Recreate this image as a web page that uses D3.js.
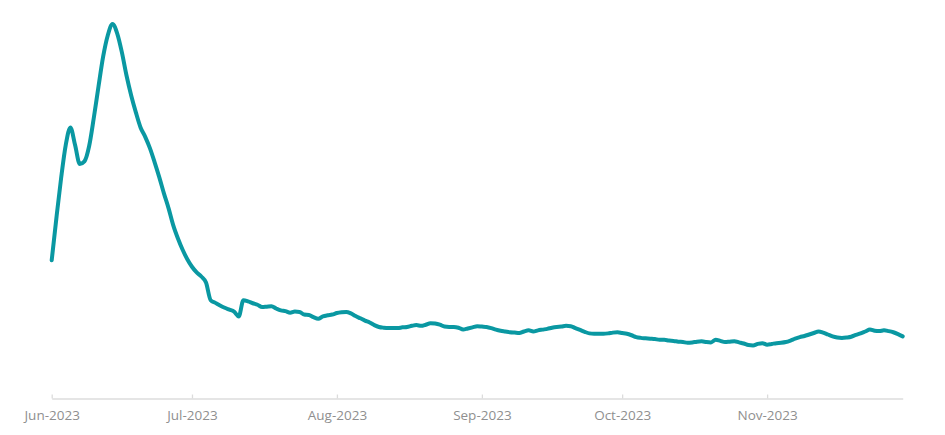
<!DOCTYPE html>
<html>
<head>
<meta charset="utf-8">
<script src="https://cdn.jsdelivr.net/npm/d3@7"></script>
<style>
  html, body { margin: 0; padding: 0; background: #ffffff; }
  svg { display: block; }
</style>
</head>
<body>
<svg id="chart" width="945" height="435"></svg>
<script>
// ---- Data (arbitrary units, daily) ----
const startDate = "2023-06-01";
const endDate = "2023-12-01"; // exclusive
const values = [
  36.7, 47.9, 58.4, 67.3, 72.0, 67.3, 62.3, 63.0, 67.0, 74.5,
  82.8, 90.8, 96.5, 99.5, 97.0, 92.0, 85.8, 80.5, 76.0, 72.0,
  69.5, 66.5, 62.8, 58.8, 54.5, 50.5, 46.0, 42.5, 39.5, 37.0,
  35.0, 33.5, 32.4, 30.8, 26.1, 25.4, 24.7, 24.1, 23.6, 23.1,
  21.8, 26.1, 25.8, 25.3, 24.9, 24.3, 24.4, 24.5, 23.9, 23.4,
  23.2, 22.8, 23.1, 23.0, 22.3, 22.2, 21.6, 21.2, 21.8, 22.1,
  22.3, 22.7, 22.9, 23.0, 22.6, 21.9, 21.3, 20.7, 20.2, 19.5,
  19.0, 18.8, 18.7, 18.7, 18.7, 18.9, 19.0, 19.3, 19.5, 19.3,
  19.6, 20.0, 19.9, 19.6, 19.1, 19.0, 19.0, 18.8, 18.3, 18.6,
  18.9, 19.2, 19.1, 19.0, 18.7, 18.3, 18.0, 17.8, 17.6, 17.5,
  17.4, 17.8, 18.1, 17.8, 18.1, 18.3, 18.5, 18.8, 19.0, 19.1,
  19.3, 19.2, 18.7, 18.2, 17.7, 17.3, 17.2, 17.2, 17.2, 17.3,
  17.5, 17.6, 17.4, 17.2, 16.8, 16.3, 16.1, 16.0, 15.9, 15.8,
  15.6, 15.6, 15.4, 15.3, 15.1, 15.0, 14.8, 14.9, 15.1, 15.2,
  15.0, 14.9, 15.6, 15.3, 15.0, 15.1, 15.2, 14.9, 14.6, 14.2,
  14.1, 14.5, 14.7, 14.3, 14.5, 14.7, 14.8, 15.0, 15.4, 15.9,
  16.3, 16.6, 17.0, 17.4, 17.8, 17.5, 17.0, 16.5, 16.2, 16.1,
  16.2, 16.4, 16.9, 17.3, 17.8, 18.3, 18.0, 17.9, 18.1, 17.9,
  17.6, 17.1, 16.5
];
const tickDates = ["2023-06-01", "2023-07-01", "2023-08-01", "2023-09-01", "2023-10-01", "2023-11-01"];
const tickLabels = ["Jun-2023", "Jul-2023", "Aug-2023", "Sep-2023", "Oct-2023", "Nov-2023"];

// ---- Build ----
const parse = d3.utcParse("%Y-%m-%d");
const days = d3.utcDay.range(parse(startDate), parse(endDate));
const data = days.map((d, i) => ({ date: d, value: values[i] }));

const svg = d3.select("#chart");
const x = d3.scaleUtc()
  .domain([days[0], days[days.length - 1]])
  .range([51.7, 902.7]);
const y = d3.scaleLinear()
  .domain([0, 100])
  .range([398.5, 22]);

// x axis
const ticks = tickDates.map(parse);
const axis = d3.axisBottom(x)
  .tickValues(ticks)
  .tickFormat((d, i) => tickLabels[i])
  .tickSizeInner(-4)
  .tickSizeOuter(0)
  .tickPadding(12);

const gx = svg.append("g")
  .attr("transform", "translate(0,398.5)")
  .call(axis);
gx.select(".domain").attr("stroke", "#dcdcdc").attr("stroke-width", 1.3);
gx.selectAll(".tick line").attr("stroke", "#dcdcdc").attr("stroke-width", 1.3);
gx.selectAll(".tick text")
  .attr("fill", "#8f8f8f")
  .style("font-family", "'Open Sans', sans-serif")
  .style("font-size", "13.5px");

// line
const line = d3.line()
  .x(d => x(d.date))
  .y(d => y(d.value))
  .curve(d3.curveMonotoneX);

svg.append("path")
  .datum(data)
  .attr("fill", "none")
  .attr("stroke", "#0a98a2")
  .attr("stroke-width", 4)
  .attr("stroke-linejoin", "round")
  .attr("stroke-linecap", "round")
  .attr("d", line);
</script>
</body>
</html>
